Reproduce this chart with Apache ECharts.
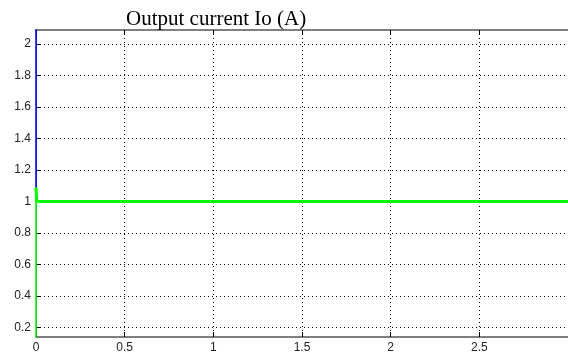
<!DOCTYPE html>
<html>
<head>
<meta charset="utf-8">
<script src="https://cdn.jsdelivr.net/npm/echarts@6/dist/echarts.min.js"></script>
<style>
html,body{margin:0;padding:0;background:#fff;}
#chart{width:568px;height:354px;}
</style>
</head>
<body>
<div id="chart"></div>
<script>
// Data
var titleText = 'Output current Io (A)';
var xTicks = [0, 0.5, 1, 1.5, 2, 2.5];
var yTicks = [0.2, 0.4, 0.6, 0.8, 1, 1.2, 1.4, 1.6, 1.8, 2];
var timeRef = [0, 0, 0.004, 3];
var refValues = [5, 1.09, 1.0, 1.0];
var timeSpike = [0, 0];
var spikeValues = [0, 1.09];
var timeIo = [0, 0.004, 3];
var ioValues = [1.09, 1.0, 1.0];

function pairs(xs, ys) { return xs.map(function (x, i) { return [x, ys[i]]; }); }

var chart = echarts.init(document.getElementById('chart'));
var labelStyle = { color: '#222', fontFamily: 'Liberation Sans, Arial, sans-serif', fontSize: 12 };
var dotted = { color: '#000', width: 1, type: [1, 3] };

chart.setOption({
  animation: false,
  backgroundColor: '#fff',
  title: {
    text: titleText,
    left: 121, top: 4,
    textStyle: { fontFamily: 'Liberation Serif, Times New Roman, serif', fontWeight: 'normal', fontSize: 21, color: '#000' }
  },
  grid: { left: 36, top: 30, right: -2, bottom: 17, containLabel: false },
  xAxis: [{
    type: 'value', min: 0, max: 3, position: 'bottom',
    axisLine: { show: true, lineStyle: { color: '#555', width: 1.5 } },
    axisTick: { show: true, inside: true, length: 5, customValues: xTicks, lineStyle: { color: '#000' } },
    axisLabel: Object.assign({ customValues: xTicks, margin: 5, formatter: function (v) { return String(v); } }, labelStyle),
    splitLine: { show: true, lineStyle: dotted }
  }, {
    type: 'value', min: 0, max: 3, position: 'top',
    axisLine: { show: true, lineStyle: { color: '#555', width: 1.5 } },
    axisTick: { show: true, inside: true, length: 5, customValues: xTicks, lineStyle: { color: '#000' } },
    axisLabel: { show: false },
    splitLine: { show: false }
  }],
  yAxis: [{
    type: 'value', min: 0.14, max: 2.09, position: 'left',
    axisLine: { show: true, lineStyle: { color: '#555', width: 1 } },
    axisTick: { show: true, inside: true, length: 5, customValues: yTicks, lineStyle: { color: '#000' } },
    axisLabel: Object.assign({ customValues: yTicks, margin: 5, formatter: function (v) { return String(v); } }, labelStyle),
    splitLine: { show: true, lineStyle: dotted }
  }],
  series: [{
    type: 'line', name: 'ref', showSymbol: false, symbol: 'none',
    data: pairs(timeRef, refValues),
    lineStyle: { color: '#0000ff', width: 1.5 },
    z: 2
  }, {
    type: 'line', name: 'spike', showSymbol: false, symbol: 'none',
    data: pairs(timeSpike, spikeValues),
    lineStyle: { color: '#00ff00', width: 1.5 },
    z: 3
  }, {
    type: 'line', name: 'Io', showSymbol: false, symbol: 'none',
    data: pairs(timeIo, ioValues),
    lineStyle: { color: '#00ff00', width: 3 },
    z: 3
  }]
});
</script>
</body>
</html>
